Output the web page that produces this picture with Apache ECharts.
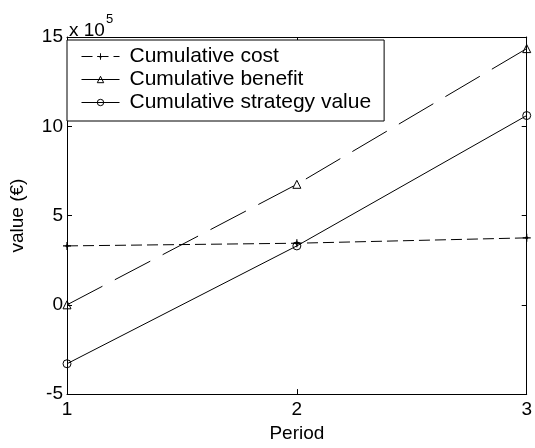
<!DOCTYPE html>
<html>
<head>
<meta charset="utf-8">
<script src="https://cdn.jsdelivr.net/npm/echarts@6/dist/echarts.min.js"></script>
<style>html,body{margin:0;padding:0;background:#fff;}#c{width:535px;height:448px;}</style>
</head>
<body>
<div id="c"></div>
<script>
var periods = [1, 2, 3];
var cumulativeCost = [3.3, 3.45, 3.75];
var cumulativeBenefit = [0, 6.75, 14.35];
var cumulativeStrategy = [-3.3, 3.3, 10.6];
var seriesNames = ['Cumulative cost', 'Cumulative benefit', 'Cumulative strategy value'];
var yTicks = [-5, 0, 5, 10, 15];
var xTicks = [1, 2, 3];

function pairs(xs, ys) { return xs.map(function (x, i) { return [x, ys[i]]; }); }

var FONT = '"Liberation Sans", Arial, sans-serif';
var starPath = 'path://M-0.6,-4L0.6,-4L0.6,-0.6L4,-0.6L4,0.6L0.6,0.6L0.6,4L-0.6,4L-0.6,0.6L-4,0.6L-4,-0.6L-0.6,-0.6Z M0,-2.2L2.2,0L0,2.2L-2.2,0Z';
var hollow = {color: 'rgba(255,255,255,0)', borderColor: '#000', borderWidth: 1};

var chart = echarts.init(document.getElementById('c'), null, {renderer: 'canvas'});
var axisCommon = {
  type: 'value',
  axisLine: {show: true, onZero: false, lineStyle: {color: '#000', width: 1}},
  axisTick: {show: true, inside: true, length: 5, lineStyle: {color: '#000'}},
  splitLine: {show: false}
};
chart.setOption({
  animation: false,
  backgroundColor: '#fff',
  grid: {left: 66, right: 7, top: 37, bottom: 50, containLabel: false},
  title: {
    text: '{a|x 10}{b|5}',
    left: 64, top: 8,
    textStyle: {fontWeight: 'normal', rich: {
      a: {fontFamily: FONT, fontSize: 19, fontWeight: 'normal', color: '#000', verticalAlign: 'bottom', padding: [8, 0, 0, 0]},
      b: {fontFamily: FONT, fontSize: 13, fontWeight: 'normal', color: '#000', verticalAlign: 'top', padding: [0, 0, 10, 1]}
    }}
  },
  legend: {
    orient: 'vertical', left: 67, top: 40,
    padding: [6, 13, 8, 14], itemGap: 2,
    itemWidth: 38, itemHeight: 8,
    backgroundColor: '#fff', borderColor: '#000', borderWidth: 1,
    textStyle: {fontFamily: FONT, fontSize: 21, color: '#000', padding: [0, 0, 0, 5]},
    data: [
      {name: seriesNames[0], lineStyle: {width: 1}, itemStyle: {color: '#000'}},
      {name: seriesNames[1], lineStyle: {type: 'solid', width: 1}, itemStyle: hollow},
      {name: seriesNames[2], lineStyle: {width: 1}, itemStyle: hollow}
    ]
  },
  xAxis: [
    Object.assign({}, axisCommon, {
      position: 'bottom', min: 1, max: 3, interval: 1,
      name: 'Period', nameLocation: 'middle', nameGap: 29,
      nameTextStyle: {fontFamily: FONT, fontSize: 19, color: '#000'},
      axisLabel: {fontFamily: FONT, fontSize: 19, color: '#000', margin: 6,
        formatter: function (v) { return xTicks.indexOf(v) >= 0 ? String(v) : ''; }}
    }),
    Object.assign({}, axisCommon, {
      position: 'top', min: 1, max: 3, interval: 1,
      axisLabel: {show: false}
    })
  ],
  yAxis: [
    Object.assign({}, axisCommon, {
      position: 'left', min: -5, max: 15, interval: 5,
      name: 'value (€)', nameLocation: 'middle', nameGap: 40,
      nameTextStyle: {fontFamily: FONT, fontSize: 19, color: '#000'},
      axisLabel: {fontFamily: FONT, fontSize: 19, color: '#000', margin: 4,
        formatter: function (v) { return yTicks.indexOf(v) >= 0 ? String(v) : ''; }}
    }),
    Object.assign({}, axisCommon, {
      position: 'right', min: -5, max: 15, interval: 5,
      axisLabel: {show: false}
    })
  ],
  series: [
    {
      name: seriesNames[0], type: 'line', data: pairs(periods, cumulativeCost),
      symbol: starPath, symbolSize: 8,
      lineStyle: {color: '#000', width: 1, type: [11, 5]},
      itemStyle: {color: '#000'}
    },
    {
      name: seriesNames[1], type: 'line', data: pairs(periods, cumulativeBenefit),
      symbol: 'triangle', symbolSize: 8,
      lineStyle: {color: '#000', width: 1, type: [40, 14]},
      itemStyle: hollow
    },
    {
      name: seriesNames[2], type: 'line', data: pairs(periods, cumulativeStrategy),
      symbol: 'circle', symbolSize: 8,
      lineStyle: {color: '#000', width: 1, type: 'solid'},
      itemStyle: hollow
    }
  ]
});
</script>
</body>
</html>
